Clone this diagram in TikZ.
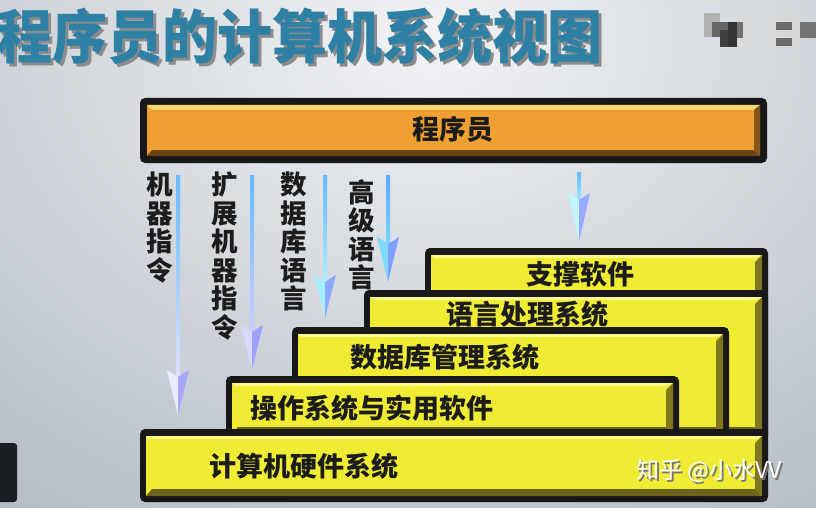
\documentclass[tikz,border=0pt]{standalone}
\usepackage{fontspec}
\setmainfont{Noto Sans CJK SC}
\newfontfamily\cjk{Noto Sans CJK SC}
\usetikzlibrary{calc}
\definecolor{bgc}{RGB}{166,176,186}
\definecolor{bgl}{RGB}{242,243,245}
\definecolor{frm}{RGB}{24,24,24}
\definecolor{ylw}{RGB}{240,236,52}
\definecolor{ybev}{RGB}{128,118,30}
\definecolor{yhl}{RGB}{250,248,140}
\definecolor{org}{RGB}{240,160,50}
\definecolor{orghl}{RGB}{250,214,110}
\definecolor{orgbev}{RGB}{105,68,20}
\definecolor{ttl}{RGB}{46,128,165}
\definecolor{txt}{RGB}{28,28,28}
\definecolor{blk}{RGB}{26,30,34}
\newcommand\ybox[4]{%
  \fill[frm, rounded corners=5pt] (#1,#2) rectangle (#3,#4);
  \fill[ylw] (#1+6,#2+7) rectangle (#3-6,#4-6);
  \fill[yhl] (#1+6,#2+7) -- (#3-6,#2+7) -- (#3-12,#2+10) -- (#1+9,#2+10) -- cycle;
  \fill[ybev] (#3-6,#2+7) -- (#3-6,#4-6) -- (#3-13,#4-13) -- (#3-13,#2+14) -- cycle;
  \fill[ybev!85!black] (#1+6,#4-6) -- (#3-6,#4-6) -- (#3-13,#4-13) -- (#1+12,#4-13) -- cycle;
}
\newcommand\vdarr[7]{% x, ytop, headtop, tip, shaft top, shaft bottom, head left
  \shade[top color=#5, bottom color=#6] (#1-2,#2) rectangle (#1+2,#3+8);
  \fill[#7] (#1-11,#3) -- (#1,#3+7) -- (#1,#4) -- cycle;
  \fill[#7!55!blue!70!white] (#1+11,#3) -- (#1,#3+7) -- (#1,#4) -- cycle;
}
\tikzset{
  boxtxt/.style={font=\cjk\bfseries\fontsize{27}{27}\selectfont, text=txt, inner sep=0pt},
  vlab/.style={font=\cjk\bfseries\fontsize{26.5}{28.5}\selectfont, text=txt, inner sep=0pt, align=center, anchor=north},
  ttlfont/.style={font=\cjk\bfseries\fontsize{55}{55}\selectfont, inner sep=0pt, anchor=west, yscale=1.06},
}
\begin{document}
\begin{tikzpicture}[x=1pt,y=-1pt]
\useasboundingbox (0,0) rectangle (816,508);
% background
\begin{scope}
\clip (0,0) rectangle (816,508);
\fill[bgc] (0,0) rectangle (816,508);
\shade[inner color=bgl, outer color=bgc] (430,40) ellipse (900 and 700);
% mosaic patch top right
\fill[black!30] (704,13) rectangle (720,37);
\fill[black!60] (712,22) rectangle (728,37);
\fill[black!75] (720,30) rectangle (737,47);
\fill[black!80] (728,22) rectangle (737,47);
\fill[black!55] (737,22) rectangle (743,38);
\fill[black!58] (776,22) rectangle (792,30);
\fill[black!58] (776,38) rectangle (792,46);
\fill[black!55] (800,22) rectangle (816,38);
% dark block left
\fill[blk, rounded corners=3pt] (-5,443) rectangle (17,502);
\end{scope}
% title
\node[ttlfont, text=black!45] at (0,39) {程序员的计算机系统视图};
\node[ttlfont, text=ttl] (title) at (-3,36) {程序员的计算机系统视图};
% programmer bar
\fill[frm, rounded corners=5pt] (140,98) rectangle (767,163);
\fill[org] (147,105) rectangle (760,156);
\fill[orghl] (147,105) -- (760,105) -- (754,110) -- (152,110) -- cycle;
\fill[orgbev] (147,156) -- (760,156) -- (754,150) -- (152,150) -- cycle;
\fill[orgbev!80!org] (760,105) -- (760,156) -- (754,150) -- (754,110) -- cycle;
\node[boxtxt] (bar) at (453,129) {程序员};
% arrows
\vdarr{178}{175}{370}{415}{blue!45!cyan!60!white}{white!88!blue}{white!92!blue};
\vdarr{252}{175}{325}{370}{blue!45!cyan!60!white}{white!80!blue}{white!85!blue};
\vdarr{325}{175}{275}{318}{blue!45!cyan!60!white}{blue!25!cyan!30!white}{blue!20!cyan!35!white};
\vdarr{388}{175}{237}{282}{blue!50!cyan!65!white}{blue!35!cyan!50!white}{blue!30!cyan!50!white};
\vdarr{579}{172}{193}{242}{blue!45!cyan!60!white}{blue!25!cyan!35!white}{blue!15!cyan!25!white};
% vertical labels
\node[vlab] (l1) at (160,172) {机\\器\\指\\令};
\node[vlab] (l2) at (225,172) {扩\\展\\机\\器\\指\\令};
\node[vlab] (l3) at (293.5,172) {数\\据\\库\\语\\言};
\node[vlab] (l4) at (361.5,179) {高\\级\\语\\言};
% stacked boxes
\ybox{425}{248}{768}{440}
\ybox{364}{290}{768}{440}
\ybox{292}{327}{729}{440}
\ybox{226}{376}{679}{440}
\ybox{140}{429}{768}{502}
\node[boxtxt] (t1) at (580,274) {支撑软件};
\node[boxtxt] (t2) at (527,314) {语言处理系统};
\node[boxtxt] (t3) at (445,357) {数据库管理系统};
\node[boxtxt] (t4) at (372,408) {操作系统与实用软件};
\node[boxtxt] (t5) at (304,466) {计算机硬件系统};
% watermark
\node[anchor=west, text=black!55, font=\cjk\fontsize{23}{23}\selectfont, inner sep=0pt] at (638,473) {知乎 @小水VV};
\node[anchor=west, text=white, font=\cjk\fontsize{23}{23}\selectfont, inner sep=0pt] (wm) at (636,471) {知乎 @小水VV};
\end{tikzpicture}
\end{document}
